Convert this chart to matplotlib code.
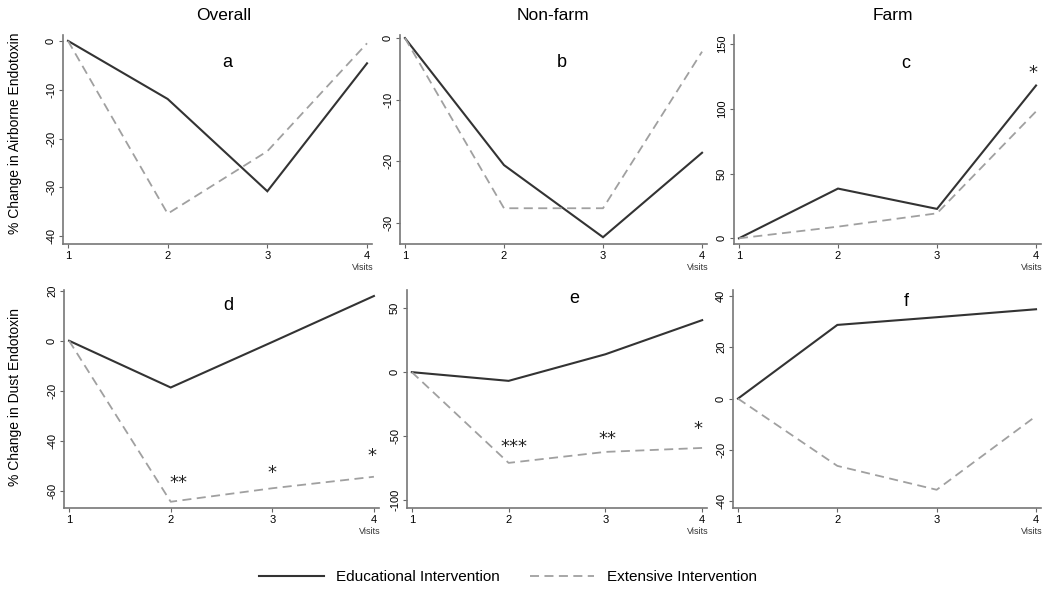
import matplotlib.pyplot as plt

plt.rcParams['font.family'] = ['Liberation Sans', 'DejaVu Sans']

W, H = 1050, 591

visits = [1, 2, 3, 4]
col_titles = ['Overall', 'Non-farm', 'Farm']
letters = ['a', 'b', 'c', 'd', 'e', 'f']

# % change in airborne endotoxin
air_overall_edu = [0, -11.9, -30.8, -4.6]
air_overall_ext = [0, -35.4, -22.6, -0.5]
air_nonfarm_edu = [0, -20.6, -32.3, -18.6]
air_nonfarm_ext = [0, -27.6, -27.6, -2.2]
air_farm_edu = [0, 38.4, 22.7, 118]
air_farm_ext = [0, 9, 19.3, 98]

# % change in dust endotoxin
dust_overall_edu = [0, -18.7, -0.5, 17.9]
dust_overall_ext = [0, -64.4, -59, -54.4]
dust_nonfarm_edu = [0, -6.8, 14, 40.7]
dust_nonfarm_ext = [0, -71, -62.4, -59.3]
dust_farm_edu = [0, 28.7, 31.7, 34.8]
dust_farm_ext = [0, -26.2, -35.5, -6.8]

edu_series = [air_overall_edu, air_nonfarm_edu, air_farm_edu,
              dust_overall_edu, dust_nonfarm_edu, dust_farm_edu]
ext_series = [air_overall_ext, air_nonfarm_ext, air_farm_ext,
              dust_overall_ext, dust_nonfarm_ext, dust_farm_ext]

yticks = [[0, -10, -20, -30, -40], [0, -10, -20, -30], [0, 50, 100, 150],
          [20, 0, -20, -40, -60], [50, 0, -50, -100], [40, 20, 0, -20, -40]]
ylims = [(-41.6, 1.2), (-33.4, 0.5), (-4.4, 157), (-66.9, 20.3), (-106.3, 64.3), (-42.6, 42.3)]
letter_pos = [(2.6, -4.4), (2.58, -4.0), (2.68, 135), (2.57, 14), (2.68, 58), (2.69, 38)]

# significance markers: (panel, visit, value, text)
stars = [(2, 3.97, 130, '*'),
         (3, 2.08, -55.7, '**'), (3, 3.0, -51.8, '*'), (3, 3.98, -45, '*'),
         (4, 2.06, -56.3, '***'), (4, 3.02, -50.6, '**'), (4, 3.96, -42.8, '*')]

# axes boxes in pixels (left, top, right, bottom)
boxes = [(63, 35, 372, 244), (400, 35, 707, 244), (734, 35, 1041, 244),
         (64, 290, 379, 508), (407, 290, 707, 508), (733, 290, 1041, 508)]

fig = plt.figure(figsize=(W / 100, H / 100), dpi=100)

axes = []
for i in range(6):
    x0, y0, x1, y1 = boxes[i]
    ax = fig.add_axes([x0 / W, 1 - y1 / H, (x1 - x0) / W, (y1 - y0) / H])
    ax.plot(visits, edu_series[i], color='#333333', lw=1.5, solid_joinstyle='miter')
    ax.plot(visits, ext_series[i], color='#a0a0a0', lw=1.3, dashes=(5, 3))
    ax.set_xlim(0.95, 4.05)
    ax.set_ylim(*ylims[i])
    ax.set_xticks(visits)
    ax.set_yticks(yticks[i])
    ax.set_yticklabels([str(t) for t in yticks[i]], rotation=90, va='center')
    ax.tick_params(labelsize=8, length=3, width=0.8, color='#666666', pad=2)
    for s in ['top', 'right']:
        ax.spines[s].set_visible(False)
    for s in ['left', 'bottom']:
        ax.spines[s].set_color('#777777')
        ax.spines[s].set_linewidth(1.2)
    ax.text(*letter_pos[i], letters[i], fontsize=13, ha='center', va='center')
    ax.annotate('Visits', xy=(4, 0), xycoords=('data', 'axes fraction'),
                xytext=(-3, -17), textcoords='offset points',
                ha='center', va='center', fontsize=6.5, color='#333333')
    axes.append(ax)

for panel, x, y, txt in stars:
    axes[panel].annotate(txt, xy=(x, y), xytext=(0, -5.5), textcoords='offset points',
                         fontsize=13, ha='center', va='baseline',
                         family='DejaVu Sans', color='#222222')

for j, title in enumerate(col_titles):
    x = [224, 553, 893][j]
    fig.text(x / W, 1 - 15 / H, title, fontsize=12.5, ha='center', va='center')

fig.text(15 / W, 1 - 133 / H, '% Change in Airborne Endotoxin', rotation=90,
         fontsize=10, ha='center', va='center')
fig.text(15 / W, 1 - 397 / H, '% Change in Dust Endotoxin', rotation=90,
         fontsize=10, ha='center', va='center')

h1, = axes[0].plot([], [], color='#333333', lw=1.5, label='Educational Intervention')
h2, = axes[0].plot([], [], color='#a0a0a0', lw=1.3, dashes=(5, 3), label='Extensive Intervention')
fig.legend(handles=[h1, h2], loc='center', bbox_to_anchor=(508 / W, 1 - 577 / H),
           ncol=2, frameon=False, fontsize=11, handlelength=4.2,
           columnspacing=2.0, handletextpad=0.8)

fig.savefig('out.png', dpi=100)
